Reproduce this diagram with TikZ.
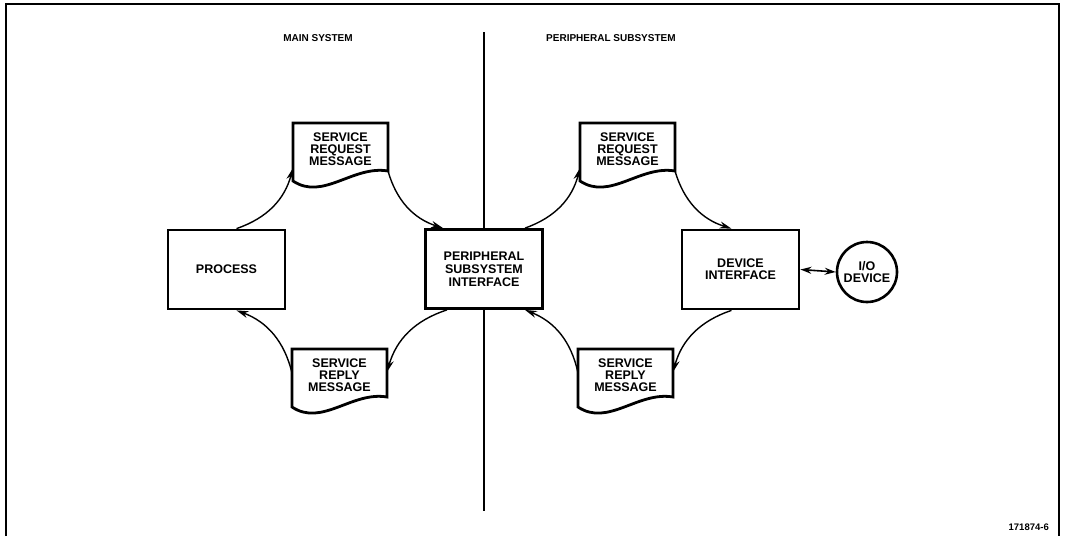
\documentclass[tikz,border=0pt]{standalone}
\usepackage{fontspec}
\setmainfont{Liberation Sans}
\usetikzlibrary{arrows.meta}
\tikzset{
  boxline/.style={line width=2.8pt, line join=miter},
  boxfont/.style={font=\bfseries\fontsize{12.5}{12.3}\selectfont},
  procbox/.style={draw, boxline, rectangle, minimum width=117pt, minimum height=79pt, align=center, boxfont, inner sep=0pt},
  doctext/.style={align=center, boxfont, inner sep=0pt},
  iocircle/.style={draw, line width=2.6pt, circle, minimum size=60pt, align=center, boxfont, inner sep=0pt},
  flow/.style={line width=1.4pt, -{Stealth[length=12pt,width=7pt]}},
  both/.style={line width=1.6pt, {Stealth[length=11pt,width=7pt]}-{Stealth[length=11pt,width=7pt]}},
  heading/.style={font=\bfseries\fontsize{10}{11}\selectfont, inner sep=0pt},
  frame/.style={line width=2pt},
}
\newcommand{\docbox}[4]{% name, L, T, text
  \draw[boxline] (#2,#3) -- (#2+95,#3) -- (#2+95,#3+48)
     .. controls (#2+60,#3+42) and (#2+30,#3+78) .. (#2,#3+58) -- cycle;
  \node[doctext] (#1) at (#2+47.5,#3+26) {#4};
  \coordinate (#1-lu) at (#2,#3+45);
  \coordinate (#1-br) at (#2+95,#3+48);
  \coordinate (#1-rm) at (#2+95,#3+23);
  \coordinate (#1-lm) at (#2,#3+24);
}
\begin{document}
\begin{tikzpicture}[x=1pt,y=-1pt]
\useasboundingbox (0,0) rectangle (1065,536);
% frame and divider
\draw[frame] (6,536) -- (6,4) -- (1059,4) -- (1059,536);
\coordinate (divtop) at (484,32);
\coordinate (divbot) at (484,511);
\draw[line width=1.6pt] (divtop) -- (divbot);
% headings
\node[heading, anchor=base] (hmain) at (318,41) {MAIN SYSTEM};
\node[heading, anchor=base west] (hper) at (546,41) {PERIPHERAL SUBSYSTEM};
\node[font=\bfseries\fontsize{9.5}{10}\selectfont, anchor=base east, inner sep=0pt] (fig) at (1049,530) {171874-6};
% boxes
\node[procbox] (proc) at (226.5,269.5) {PROCESS};
\node[procbox, fill=white] (psi) at (484,269) {PERIPHERAL\\[0.6pt]SUBSYSTEM\\[0.6pt]INTERFACE};
\node[procbox] (dev) at (740.5,269.5) {DEVICE\\INTERFACE};
\node[iocircle] (io) at (867,272) {I/O\\DEVICE};
% documents
\docbox{lreq}{293}{123}{SERVICE\\REQUEST\\MESSAGE}
\docbox{lrep}{292}{349}{SERVICE\\REPLY\\MESSAGE}
\docbox{rreq}{580}{123}{SERVICE\\REQUEST\\MESSAGE}
\docbox{rrep}{578}{349}{SERVICE\\REPLY\\MESSAGE}
% left loop
\draw[flow] ([xshift=10pt]proc.north) to[bend right=28] (lreq-lu);
\draw[flow] (lreq-br) to[bend right=28] ([xshift=-41pt]psi.north);
\draw[flow] ([xshift=-37pt]psi.south) to[bend right=28] (lrep-rm);
\draw[flow] (lrep-lm) to[bend right=28] ([xshift=10pt]proc.south);
% right loop
\draw[flow] ([xshift=41pt]psi.north) to[bend right=28] (rreq-lu);
\draw[flow] (rreq-br) to[bend right=28] ([xshift=-9pt]dev.north);
\draw[flow] ([xshift=-9pt]dev.south) to[bend right=28] (rrep-rm);
\draw[flow] (rrep-lm) to[bend right=28] ([xshift=41pt]psi.south);
% I/O link
\draw[both] (dev.east) -- (io.west);
\end{tikzpicture}
\end{document}
